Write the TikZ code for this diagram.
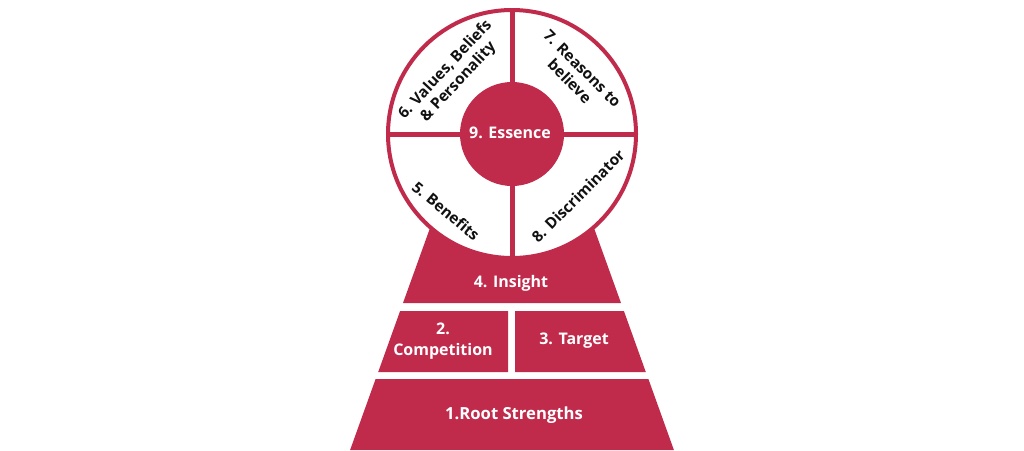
\documentclass[tikz,border=0pt]{standalone}
\usepackage{fontspec}
\setmainfont{Open Sans}
\usepackage{xcolor}
\usepackage{tikz}
\usetikzlibrary{positioning}
\definecolor{cramoisi}{HTML}{C02A4B}
\definecolor{noir}{HTML}{111111}

\begin{document}
\begin{tikzpicture}[x=0.75pt, y=-0.75pt,
    blanc/.style={font=\bfseries\fontsize{12}{16}\selectfont, text=white, align=center, inner sep=1pt},
    quart/.style={font=\bfseries\fontsize{11.5}{13.5}\selectfont, text=noir, align=center, inner sep=1pt}]
    \useasboundingbox (0,0) rectangle (1024,450);
    % Pyramide : haut, bas, demi-largeur haut, demi-largeur bas
    \foreach \ya/\yb/\wa/\wb in {180/303/64.7/109, 379/450/136.4/161.9} {
      \fill[cramoisi] (512-\wa,\ya) -- (512+\wa,\ya) -- (512+\wb,\yb) -- (512-\wb,\yb) -- cycle;
    }
    \fill[cramoisi] (400.1,311) -- (508,311) -- (508,372) -- (378.2,372) -- cycle;
    \fill[cramoisi] (515,311) -- (623.9,311) -- (645.8,372) -- (515,372) -- cycle;
    \node[blanc] (insight) at (511,283) {4. Insight};
    \node[blanc] (competition) at (443,341) {2.\\Competition};
    \node[blanc] (target) at (574,341) {3. Target};
    \node[blanc, font=\bfseries\fontsize{12.5}{16}\selectfont] (root) at (514,415) {1.Root Strengths};
    % Roue
    \draw[cramoisi, line width=3pt, fill=white] (512,134) circle (124);
    \draw[cramoisi, line width=3.75pt] (388,134) -- (636,134);
    \draw[cramoisi, line width=3.75pt] (512,10) -- (512,258);
    \fill[cramoisi] (512,134) circle (52);
    \node[blanc] (essence) at (510,133) {9. Essence};
    % Quartiers
    \node[quart, rotate=47] (valeurs) at (452,76) {6. Values, Beliefs\\\& Personality};
    \node[quart, rotate=-45] (raisons) at (576,75) {7. Reasons to\\believe};
    \node[quart, rotate=-40] (benefices) at (446,211) {5. Benefits};
    \node[quart, rotate=45] (discri) at (578,196) {8. Discriminator};
  \end{tikzpicture}
\end{document}
